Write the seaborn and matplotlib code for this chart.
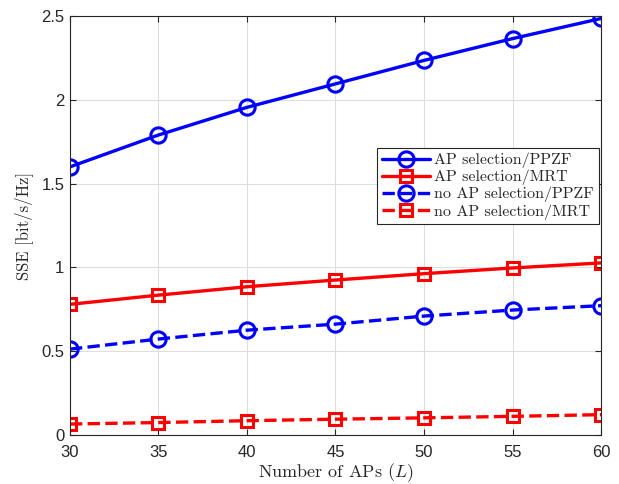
import matplotlib
matplotlib.use("Agg")
import matplotlib.pyplot as plt
import seaborn as sns
import pandas as pd

sns.set_style("ticks")
plt.rcParams['font.family'] = ['Liberation Sans', 'DejaVu Sans']
plt.rcParams['mathtext.fontset'] = 'cm'

num_aps = [30, 35, 40, 45, 50, 55, 60]
sel_ppzf = [1.60, 1.79, 1.955, 2.095, 2.235, 2.365, 2.485]
sel_mrt = [0.78, 0.835, 0.885, 0.925, 0.963, 0.997, 1.027]
nosel_ppzf = [0.513, 0.573, 0.626, 0.662, 0.710, 0.746, 0.772]
nosel_mrt = [0.066, 0.075, 0.086, 0.095, 0.103, 0.112, 0.122]
labels = ['AP selection/PPZF', 'AP selection/MRT',
          'no AP selection/PPZF', 'no AP selection/MRT']
series = [sel_ppzf, sel_mrt, nosel_ppzf, nosel_mrt]
colors = ['#0000ff', '#ff0000', '#0000ff', '#ff0000']
markers = ['o', 's', 'o', 's']
dashes = ['-', '-', '--', '--']

fig = plt.figure(figsize=(6.19, 4.84), dpi=100)
ax = fig.add_axes([0.113, 0.101, 0.858, 0.866])

for lab, vals, c, m, ls in zip(labels, series, colors, markers, dashes):
    df = pd.DataFrame({'L': num_aps, 'SSE': vals})
    sns.lineplot(data=df, x='L', y='SSE', ax=ax, color=c, marker=m,
                 linestyle=ls, linewidth=2.4,
                 markersize=11 if m == 'o' else 9,
                 markerfacecolor='none', markeredgecolor=c,
                 markeredgewidth=2.2, label=lab,
                 dashes=(3, 3.5) if ls == '--' else None)

ax.set_xlim(30, 60)
ax.set_ylim(0, 2.5)
ax.set_xticks(num_aps)
ax.set_yticks([0, 0.5, 1, 1.5, 2, 2.5])
ax.set_yticklabels(['0', '0.5', '1', '1.5', '2', '2.5'])
ax.grid(True, color='#dedede', linewidth=0.8)
ax.tick_params(direction='in', length=4, width=0.8, labelsize=12,
               top=True, right=True, colors='#262626')
ax.tick_params(axis='x', pad=7)
ax.tick_params(axis='y', pad=4)
for s in ax.spines.values():
    s.set_visible(True)
    s.set_linewidth(0.8)
    s.set_color('#262626')

ax.set_xlabel(r'Number of APs ($L$)', fontsize=13, family='cmr10', labelpad=1)
ax.set_ylabel('SSE [bit/s/Hz]', fontsize=12, family='cmr10', labelpad=6)

leg = ax.legend(loc='upper right', bbox_to_anchor=(0.996, 0.685),
                borderaxespad=0, fancybox=False, framealpha=1,
                edgecolor='#262626', prop={'family': 'cmr10', 'size': 11.5},
                handlelength=3.0, handletextpad=0.3, labelspacing=0.1,
                borderpad=0.3)
leg.get_frame().set_linewidth(0.8)

fig.savefig('out.png', dpi=100)
